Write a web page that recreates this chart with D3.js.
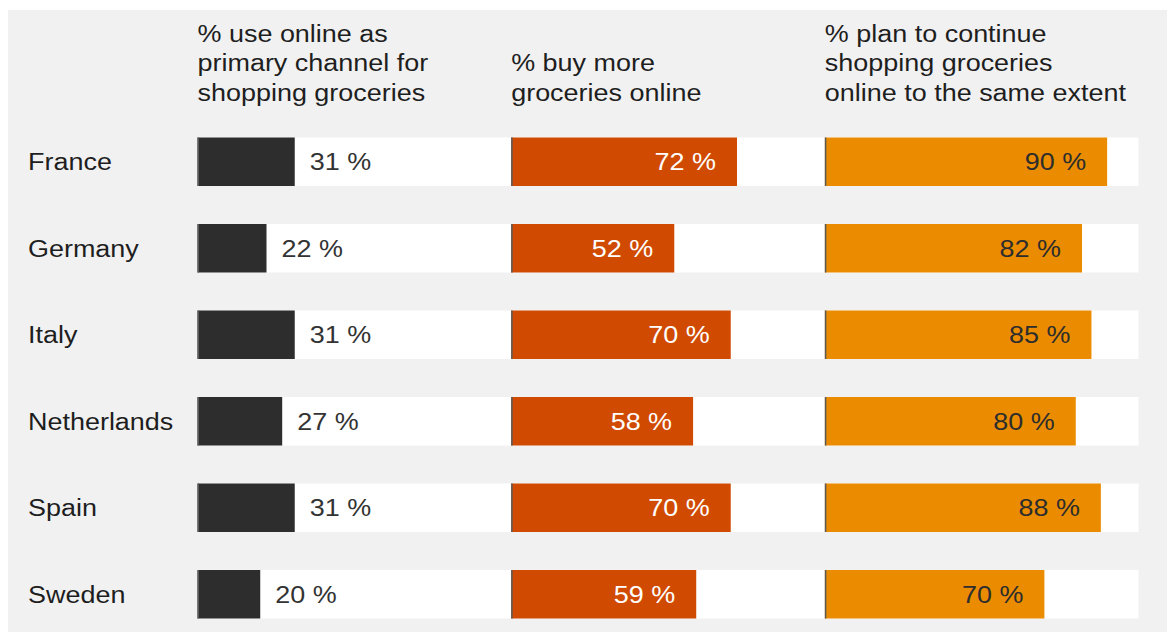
<!DOCTYPE html>
<html>
<head>
<meta charset="utf-8">
<script src="https://cdn.jsdelivr.net/npm/d3@7"></script>
<style>
  html, body { margin: 0; padding: 0; background: #ffffff; }
  svg { display: block; }
  text { font-family: "Liberation Sans", Arial, Helvetica, sans-serif; }
</style>
</head>
<body>
<svg id="chart" width="1167" height="634"></svg>
<script>
// Survey results: online grocery shopping by country
const countries = ["France", "Germany", "Italy", "Netherlands", "Spain", "Sweden"];
const primaryChannel = [31, 22, 31, 27, 31, 20];
const buyMoreOnline = [72, 52, 70, 58, 70, 59];
const continueSame = [90, 82, 85, 80, 88, 70];

const columnKeys = ["primary", "more", "continue"];
const columnHeaders = [
  ["% use online as", "primary channel for", "shopping groceries"],
  ["% buy more", "groceries online"],
  ["% plan to continue", "shopping groceries", "online to the same extent"]
];
const columnValues = [primaryChannel, buyMoreOnline, continueSame];
const columnColors = ["#2d2d2d", "#d04a02", "#eb8c00"];
const labelColors = ["#333333", "#ffffff", "#2d2d2d"];
const labelInside = [false, true, true];

const W = 1167, H = 634;
const FONT = 24.5, STRETCH = 1.1;

const svg = d3.select("#chart");

// panel background
svg.append("rect")
  .attr("x", 8).attr("y", 10)
  .attr("width", W - 8).attr("height", 622)
  .attr("fill", "#f1f1f1");

// scales
const col = d3.scaleBand().domain(columnKeys).range([197.5, 1138.5]).padding(0);
const x = d3.scaleLinear().domain([0, 100]).range([0, col.bandwidth()]);
const y = d3.scaleBand().domain(countries)
  .range([137.5, 618.5]).paddingInner(0.4393).paddingOuter(0);

function addText(sel, tx, ty, str, opts = {}) {
  return sel.append("text")
    .attr("transform", `translate(${tx},${ty}) scale(${STRETCH},1)`)
    .attr("text-anchor", opts.anchor || "start")
    .attr("font-size", FONT)
    .attr("fill", opts.fill || "#222222")
    .text(str);
}

// white tracks behind bars, spanning all three columns
svg.append("g").selectAll("rect")
  .data(countries)
  .join("rect")
  .attr("x", col.range()[0])
  .attr("y", d => y(d))
  .attr("width", col.range()[1] - col.range()[0])
  .attr("height", y.bandwidth())
  .attr("fill", "#ffffff");

// column headers (bottom-aligned)
const lineH = 29.2;
const lastBaseline = 100.5;
columnHeaders.forEach((lines, ci) => {
  const g = svg.append("g");
  lines.forEach((ln, li) => {
    const by = lastBaseline - (lines.length - 1 - li) * lineH;
    addText(g, col(columnKeys[ci]), by, ln, { fill: "#1e1e1e" });
  });
});

// country labels
const labG = svg.append("g");
countries.forEach(c => {
  addText(labG, 28, y(c) + y.bandwidth() / 2 + 8.6, c, { fill: "#1e1e1e" });
});

// bars and value labels
columnKeys.forEach((key, ci) => {
  const x0 = col(key);
  const vals = columnValues[ci];
  const g = svg.append("g");
  g.selectAll("rect.bar")
    .data(countries)
    .join("rect")
    .attr("class", "bar")
    .attr("x", x0)
    .attr("y", d => y(d))
    .attr("width", (d, i) => x(vals[i]))
    .attr("height", y.bandwidth())
    .attr("fill", columnColors[ci]);

  // baseline line at the start of each bar
  g.selectAll("line.base")
    .data(countries)
    .join("line")
    .attr("class", "base")
    .attr("x1", x0 + 0.75).attr("x2", x0 + 0.75)
    .attr("y1", d => y(d))
    .attr("y2", d => y(d) + y.bandwidth())
    .attr("stroke", "#5a5a5a")
    .attr("stroke-width", 1.5);

  countries.forEach((c, i) => {
    const end = x0 + x(vals[i]);
    const cy = y(c) + y.bandwidth() / 2 + 8.6;
    if (labelInside[ci]) {
      addText(g, end - 21, cy, vals[i] + " %", { anchor: "end", fill: labelColors[ci] });
    } else {
      addText(g, end + 15, cy, vals[i] + " %", { fill: labelColors[ci] });
    }
  });
});
</script>
</body>
</html>
